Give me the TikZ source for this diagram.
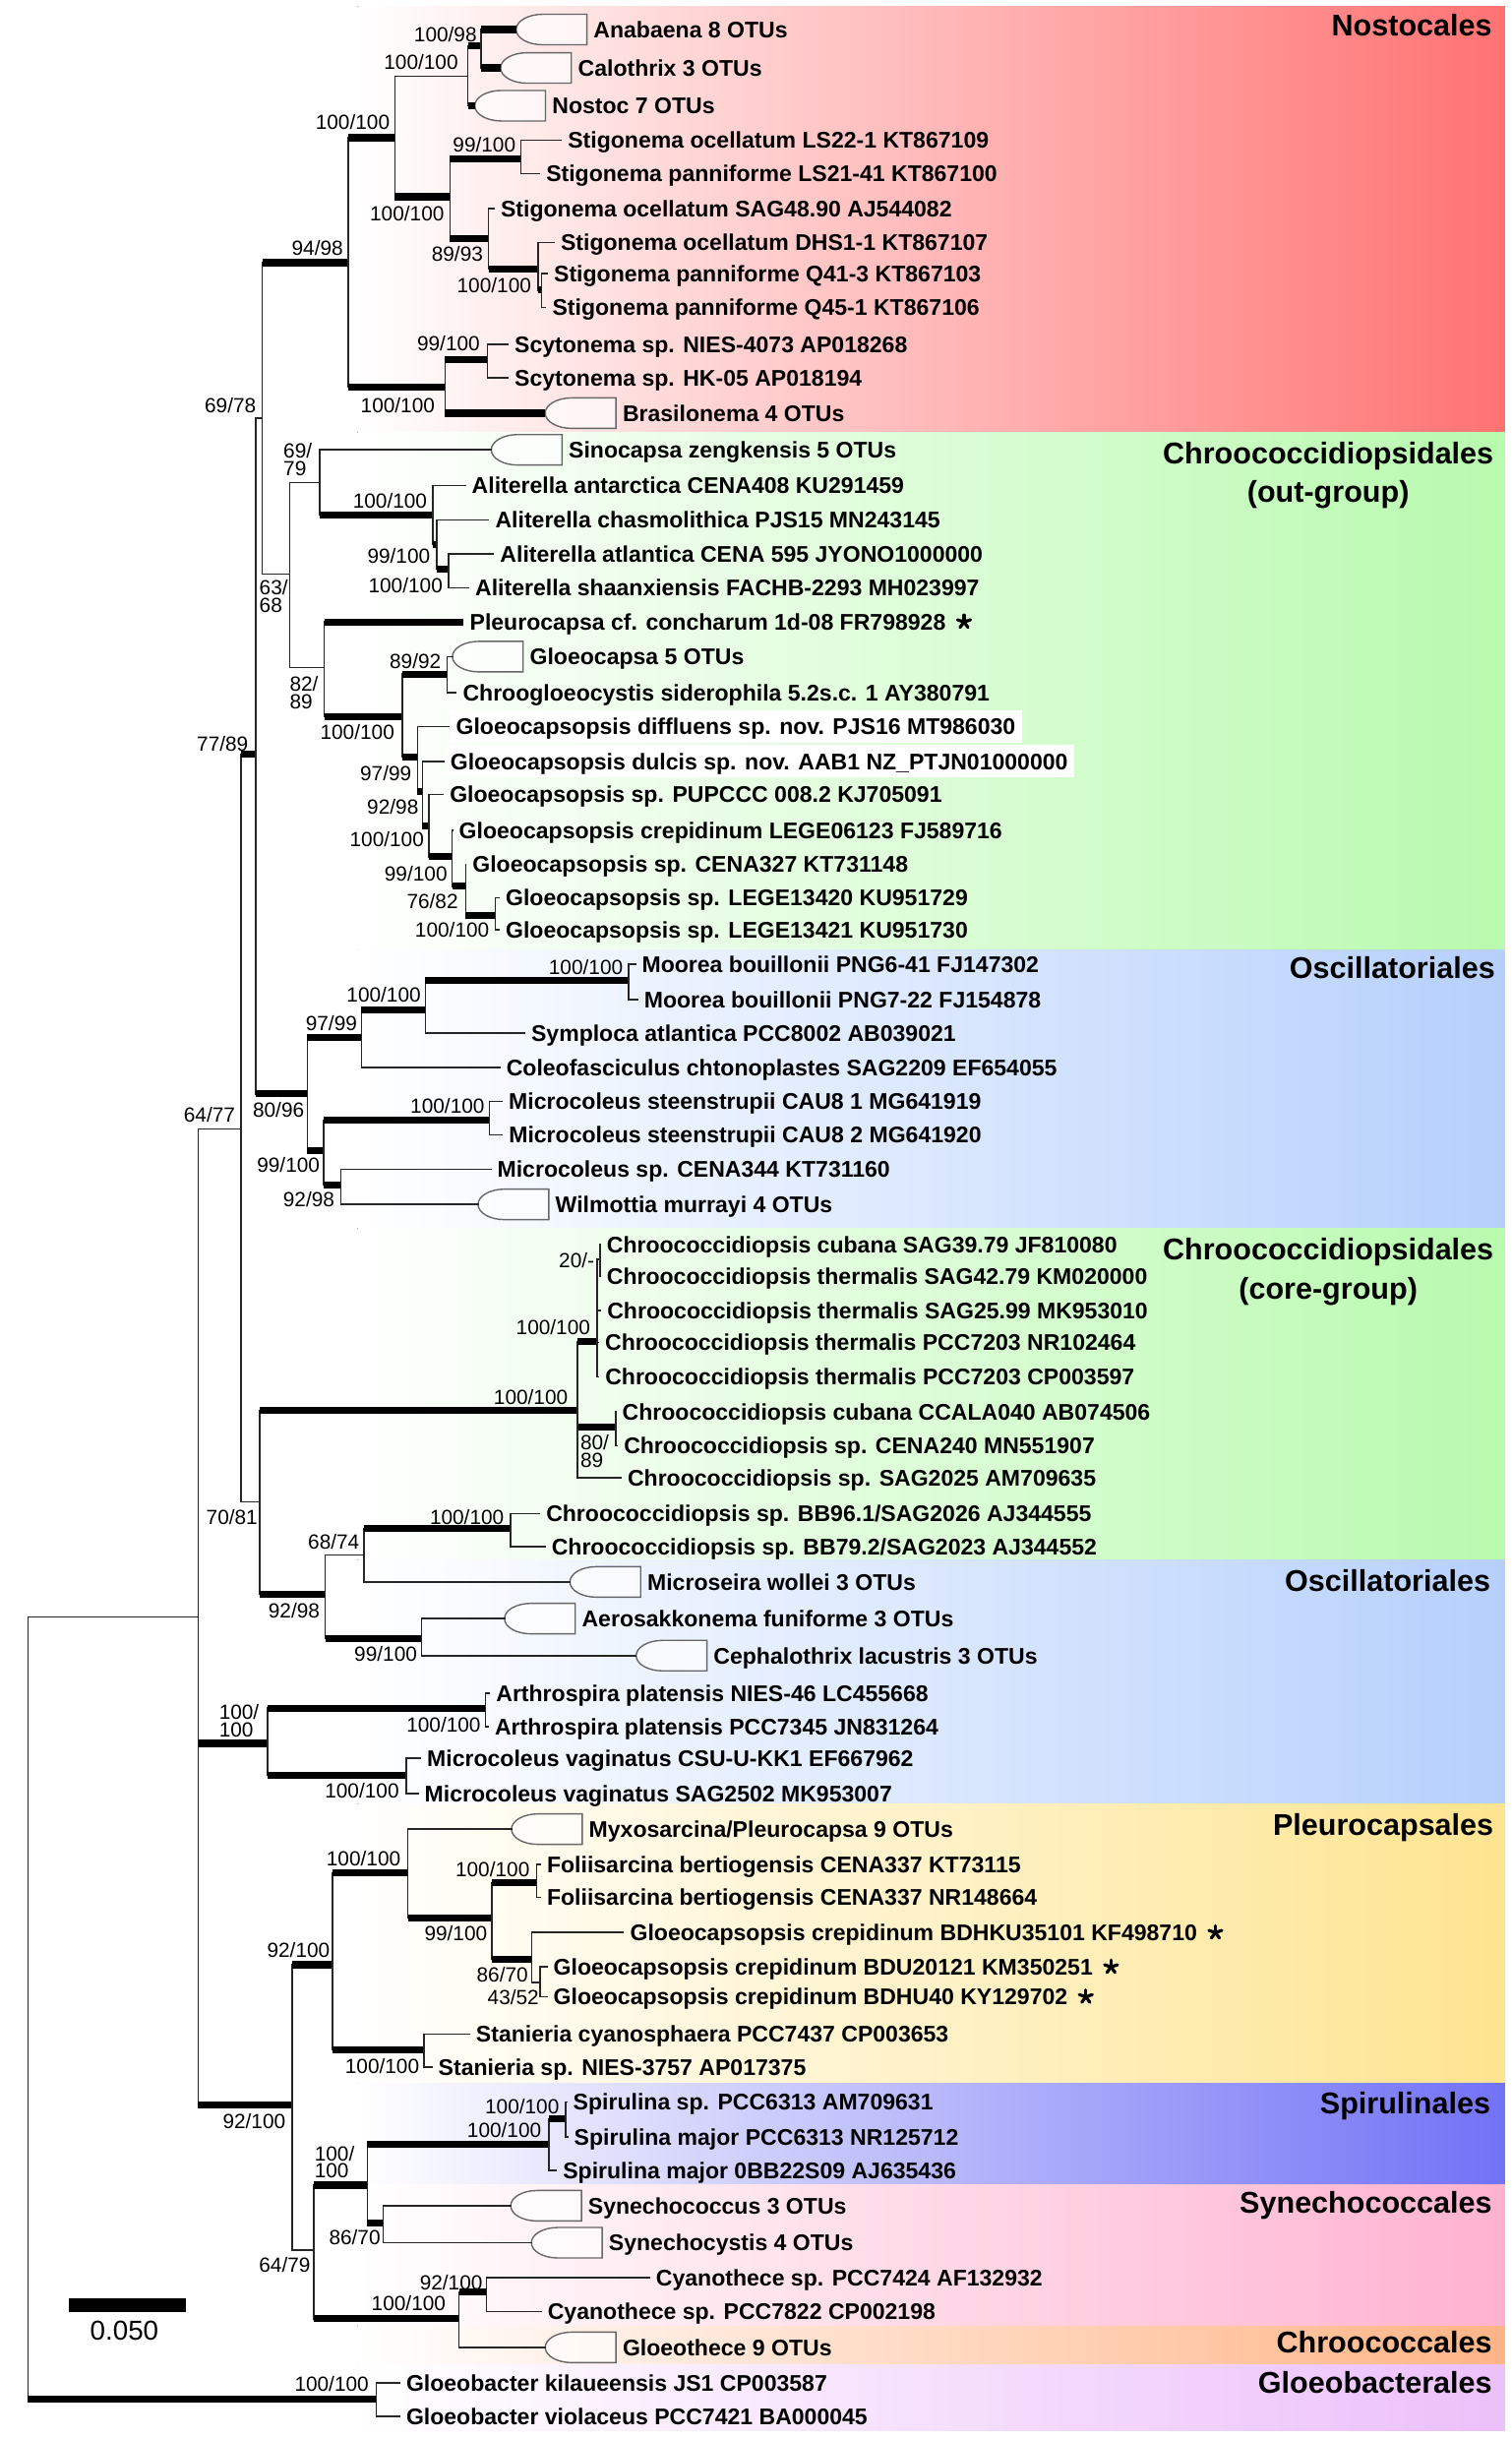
\documentclass[tikz,border=0pt]{standalone}
\usepackage{fontspec}
\setmainfont{Liberation Sans}
\definecolor{nostC}{RGB}{255,114,114}
\definecolor{chrC}{RGB}{184,250,174}
\definecolor{oscC}{RGB}{182,208,252}
\definecolor{pleC}{RGB}{254,228,144}
\definecolor{spiC}{RGB}{114,114,246}
\definecolor{synC}{RGB}{255,178,206}
\definecolor{chcC}{RGB}{255,180,134}
\definecolor{glbC}{RGB}{236,192,250}
\tikzset{br/.style={line width=0.55pt,line cap=rect,black!85}}
\tikzset{bb/.style={line width=2.6pt}}
\tikzset{vline/.style={line width=0.55pt,line cap=rect,black!85}}
\tikzset{leaf/.style={anchor=west,inner xsep=2.27pt,inner ysep=0pt,font=\bfseries\fontsize{8.3}{10}\selectfont,text height=5.95pt,text depth=0pt}}
\tikzset{boxleaf/.style={leaf,fill=white,inner ysep=3pt}}
\tikzset{bs/.style={anchor=east,inner sep=0pt,font=\fontsize{7.5}{6.3}\selectfont,text height=5.4pt,text depth=0pt}}
\tikzset{bstwo/.style={anchor=west,align=left,inner sep=0pt,font=\fontsize{7.5}{6.3}\selectfont}}
\tikzset{grp/.style={anchor=north east,align=center,inner sep=0pt,font=\bfseries\fontsize{11}{14.2}\selectfont}}
\tikzset{cladeshape/.style={draw=black!60,line width=0.5pt,fill=white,fill opacity=0.65}}
\tikzset{astk/.style={line width=1.15pt,line cap=round}}
\newcommand{\cladebox}[4]{%
  \coordinate (#1) at (#2,#3);
  \draw[cladeshape] (#2+17,#3-9.8) -- (#2+45.5,#3-9.8) -- (#2+45.5,#3+9.8) -- (#2+17,#3+9.8)
    .. controls (#2+7.6,#3+9.8) and (#2,#3+5.4) .. (#2,#3)
    .. controls (#2,#3-5.4) and (#2+7.6,#3-9.8) .. cycle;
  \node[leaf] (#1-lab) at (#2+45.5,#3) {#4};}

\begin{document}
\begin{tikzpicture}[x=0.02cm,y=-0.02cm]
  \useasboundingbox (0,0) rectangle (972,1568);
  % coloured bands
  \fill[left color=white,right color=nostC] (230,4) rectangle (968,278);
  \fill[left color=white,right color=chrC] (230,278) rectangle (968,611);
  \fill[left color=white,right color=oscC] (230,611) rectangle (968,790);
  \fill[left color=white,right color=chrC] (230,790) rectangle (968,1003);
  \fill[left color=white,right color=oscC] (230,1003) rectangle (968,1160);
  \fill[left color=white,right color=pleC] (230,1160) rectangle (968,1340);
  \fill[left color=white,right color=spiC] (230,1340) rectangle (968,1405);
  \fill[left color=white,right color=synC] (230,1405) rectangle (968,1496);
  \fill[left color=white,right color=chcC] (230,1496) rectangle (968,1521);
  \fill[left color=white,right color=glbC] (230,1521) rectangle (968,1563);

  % collapsed clades
  \cladebox{anab}{332}{19}{Anabaena 8 OTUs}
  \cladebox{calo}{322}{43.7}{Calothrix 3 OTUs}
  \cladebox{nosto}{305.4}{68}{Nostoc 7 OTUs}
  \cladebox{brasil}{350.7}{265.7}{Brasilonema 4 OTUs}
  \cladebox{sinoc}{316}{289.3}{Sinocapsa zengkensis 5 OTUs}
  \cladebox{gloeoca}{291}{422.3}{Gloeocapsa 5 OTUs}
  \cladebox{wilmo}{307.5}{774.6}{Wilmottia murrayi 4 OTUs}
  \cladebox{microse}{366.6}{1017.4}{Microseira wollei 3 OTUs}
  \cladebox{aeros}{324.5}{1041}{Aerosakkonema funiforme 3 OTUs}
  \cladebox{cephal}{409.2}{1064.8}{Cephalothrix lacustris 3 OTUs}
  \cladebox{myxo}{329}{1176.4}{Myxosarcina/Pleurocapsa 9 OTUs}
  \cladebox{synco}{328.5}{1418.6}{Synechococcus 3 OTUs}
  \cladebox{syncy}{341.8}{1442.4}{Synechocystis 4 OTUs}
  \cladebox{gloeoth}{350.7}{1509.7}{Gloeothece 9 OTUs}

  % leaves
  \node[leaf] (stig1) at (361,90.3) {Stigonema ocellatum LS22-1 KT867109};
  \node[leaf] (stig2) at (347,111.8) {Stigonema panniforme LS21-41 KT867100};
  \node[leaf] (stig3) at (317.8,134) {Stigonema ocellatum SAG48.90 AJ544082};
  \node[leaf] (stig4) at (356.4,156) {Stigonema ocellatum DHS1-1 KT867107};
  \node[leaf] (stig5) at (352,176) {Stigonema panniforme Q41-3 KT867103};
  \node[leaf] (stig6) at (351,197.6) {Stigonema panniforme Q45-1 KT867106};
  \node[leaf] (scyt1) at (326.7,221.4) {Scytonema sp. NIES-4073 AP018268};
  \node[leaf] (scyt2) at (326.7,243) {Scytonema sp. HK-05 AP018194};
  \node[leaf] (aliant) at (299.2,312.2) {Aliterella antarctica CENA408 KU291459};
  \node[leaf] (alichas) at (314.3,334.5) {Aliterella chasmolithica PJS15 MN243145};
  \node[leaf] (aliatl) at (317.4,356.2) {Aliterella atlantica CENA 595 JYONO1000000};
  \node[leaf] (alishaan) at (301.4,378) {Aliterella shaanxiensis FACHB-2293 MH023997};
  \node[leaf] (pleuroc) at (297.9,400) {Pleurocapsa cf. concharum 1d-08 FR798928};
  \node[leaf] (chroog) at (293.4,445.6) {Chroogloeocystis siderophila 5.2s.c. 1 AY380791};
  \node[boxleaf] (gdiff) at (289,467.4) {Gloeocapsopsis diffluens sp. nov. PJS16 MT986030};
  \node[boxleaf] (gdulc) at (285.4,489.6) {Gloeocapsopsis dulcis sp. nov. AAB1 NZ\_PTJN01000000};
  \node[leaf] (gpup) at (285,511) {Gloeocapsopsis sp. PUPCCC 008.2 KJ705091};
  \node[leaf] (gcrepL) at (291,534) {Gloeocapsopsis crepidinum LEGE06123 FJ589716};
  \node[leaf] (gcena) at (299.6,556) {Gloeocapsopsis sp. CENA327 KT731148};
  \node[leaf] (glege1) at (321,577.5) {Gloeocapsopsis sp. LEGE13420 KU951729};
  \node[leaf] (glege2) at (321,598) {Gloeocapsopsis sp. LEGE13421 KU951730};
  \node[leaf] (moor1) at (408.6,620.2) {Moorea bouillonii PNG6-41 FJ147302};
  \node[leaf] (moor2) at (410,643) {Moorea bouillonii PNG7-22 FJ154878};
  \node[leaf] (sympl) at (337.4,664.5) {Symploca atlantica PCC8002 AB039021};
  \node[leaf] (coleo) at (321.4,686.6) {Coleofasciculus chtonoplastes SAG2209 EF654055};
  \node[leaf] (mste1) at (322.9,708.4) {Microcoleus steenstrupii CAU8 1 MG641919};
  \node[leaf] (mste2) at (323,729.9) {Microcoleus steenstrupii CAU8 2 MG641920};
  \node[leaf] (mcena) at (315.6,752) {Microcoleus sp. CENA344 KT731160};
  \node[leaf] (ccub1) at (386,800.5) {Chroococcidiopsis cubana SAG39.79 JF810080};
  \node[leaf] (cther1) at (386,821) {Chroococcidiopsis thermalis SAG42.79 KM020000};
  \node[leaf] (cther2) at (386.3,842.7) {Chroococcidiopsis thermalis SAG25.99 MK953010};
  \node[leaf] (cther3) at (384.9,863.4) {Chroococcidiopsis thermalis PCC7203 NR102464};
  \node[leaf] (cther4) at (385,885.5) {Chroococcidiopsis thermalis PCC7203 CP003597};
  \node[leaf] (ccub2) at (396,908) {Chroococcidiopsis cubana CCALA040 AB074506};
  \node[leaf] (ccena) at (397,929.8) {Chroococcidiopsis sp. CENA240 MN551907};
  \node[leaf] (csag) at (399.4,950.3) {Chroococcidiopsis sp. SAG2025 AM709635};
  \node[leaf] (cbb96) at (347,973.5) {Chroococcidiopsis sp. BB96.1/SAG2026 AJ344555};
  \node[leaf] (cbb79) at (350.5,994.6) {Chroococcidiopsis sp. BB79.2/SAG2023 AJ344552};
  \node[leaf] (arth1) at (314.8,1088.9) {Arthrospira platensis NIES-46 LC455668};
  \node[leaf] (arth2) at (314,1110.6) {Arthrospira platensis PCC7345 JN831264};
  \node[leaf] (mvag1) at (270.4,1130.7) {Microcoleus vaginatus CSU-U-KK1 EF667962};
  \node[leaf] (mvag2) at (268.8,1153.4) {Microcoleus vaginatus SAG2502 MK953007};
  \node[leaf] (fol1) at (347.5,1199.2) {Foliisarcina bertiogensis CENA337 KT73115};
  \node[leaf] (fol2) at (347.5,1220.3) {Foliisarcina bertiogensis CENA337 NR148664};
  \node[leaf] (gbdhku) at (401,1242.9) {Gloeocapsopsis crepidinum BDHKU35101 KF498710};
  \node[leaf] (gbdu) at (351.7,1265) {Gloeocapsopsis crepidinum BDU20121 KM350251};
  \node[leaf] (gbdhu) at (351.7,1284.2) {Gloeocapsopsis crepidinum BDHU40 KY129702};
  \node[leaf] (stan1) at (301.9,1308.3) {Stanieria cyanosphaera PCC7437 CP003653};
  \node[leaf] (stan2) at (277.7,1329.4) {Stanieria sp. NIES-3757 AP017375};
  \node[leaf] (spir1) at (364.4,1352) {Spirulina sp. PCC6313 AM709631};
  \node[leaf] (spir2) at (365,1374.3) {Spirulina major PCC6313 NR125712};
  \node[leaf] (spir3) at (357.8,1396) {Spirulina major 0BB22S09 AJ635436};
  \node[leaf] (cyan1) at (417.7,1465) {Cyanothece sp. PCC7424 AF132932};
  \node[leaf] (cyan2) at (348,1486.7) {Cyanothece sp. PCC7822 CP002198};
  \node[leaf] (gbkil) at (257,1532.5) {Gloeobacter kilaueensis JS1 CP003587};
  \node[leaf] (gbvio) at (257,1554) {Gloeobacter violaceus PCC7421 BA000045};

  % asterisk marks after the flagged leaves
  \foreach \n in {pleuroc,gbdhku,gbdu,gbdhu}
    \foreach \a in {90,162,234,306,18}
      \draw[astk] ([xshift=4.2pt]\n.east) -- ++(\a:2.5pt);

  % internal nodes
  \coordinate (root) at (18,1040);
  \coordinate (ingrp) at (127.5,1040);
  \coordinate (gb) at (242,1543);
  \coordinate (n6477) at (155,726);
  \coordinate (n7789) at (164.5,485);
  \coordinate (n6978) at (168.7,269);
  \coordinate (n9498) at (224,169);
  \coordinate (nA) at (254,88.6);
  \coordinate (nB) at (301,49);
  \coordinate (nC) at (309.4,29.5);
  \coordinate (nD) at (289.4,126.5);
  \coordinate (nE) at (335,102.3);
  \coordinate (nF) at (314.3,153.5);
  \coordinate (nG) at (346.2,173);
  \coordinate (nH) at (348.2,186.5);
  \coordinate (nI) at (286.3,249);
  \coordinate (nJ) at (313.4,231.4);
  \coordinate (n6368) at (186.4,369.3);
  \coordinate (n6979) at (205.5,310.5);
  \coordinate (nK) at (278.3,331.2);
  \coordinate (nL) at (281,350);
  \coordinate (nM) at (288.5,366);
  \coordinate (n8289) at (208.6,429.3);
  \coordinate (nN) at (258.8,461);
  \coordinate (nO) at (287.7,433.6);
  \coordinate (nP) at (268.6,487);
  \coordinate (nQ) at (271.7,509);
  \coordinate (nR) at (276,531);
  \coordinate (nS) at (290.8,551);
  \coordinate (nT) at (299.6,570);
  \coordinate (nU) at (318.7,589);
  \coordinate (n8096) at (197.6,703.5);
  \coordinate (n9799) at (232.5,667);
  \coordinate (nV) at (273.6,649.3);
  \coordinate (nW) at (404.4,630.7);
  \coordinate (nX) at (208.2,740);
  \coordinate (nY) at (314.8,720.4);
  \coordinate (nZ) at (219.4,762);
  \coordinate (n7081) at (167.1,966);
  \coordinate (nCore) at (371.5,907);
  \coordinate (nCa) at (384,863);
  \coordinate (nCb) at (386,810);
  \coordinate (nCc) at (396,918);
  \coordinate (n9298) at (209.2,1025.2);
  \coordinate (n6874) at (234,1000);
  \coordinate (nBB) at (328.4,983);
  \coordinate (nOs2) at (271.2,1053.7);
  \coordinate (nArth0) at (172,1121.2);
  \coordinate (nArth) at (312.2,1098.6);
  \coordinate (nMvag) at (261.3,1141.8);
  \coordinate (n92100) at (187.8,1354);
  \coordinate (nPleu) at (214,1263.6);
  \coordinate (nPl1) at (262.3,1204.5);
  \coordinate (nPl2) at (316.4,1233.6);
  \coordinate (nFol) at (345.2,1210.8);
  \coordinate (nPl3) at (342,1260);
  \coordinate (nPl4) at (347.3,1275);
  \coordinate (nStan) at (272.8,1318.4);
  \coordinate (n6479) at (202,1447);
  \coordinate (nSp0) at (236.2,1405.3);
  \coordinate (nSp1) at (353,1379.1);
  \coordinate (nSp2) at (364,1362.7);
  \coordinate (nSyn) at (246.4,1429.7);
  \coordinate (nCy0) at (295.2,1491.3);
  \coordinate (nCy1) at (313,1474);

  % branches: parent/child/style
  \foreach \p/\c/\s in {root/ingrp/br,root/gb/bb,gb/gbkil/br,gb/gbvio/br,
      ingrp/n6477/br,ingrp/nArth0/bb,ingrp/n92100/bb,
      n6477/n7789/bb,n6477/n7081/br,n7789/n6978/br,n7789/n8096/bb,
      n6978/n9498/bb,n6978/n6368/br,n9498/nA/bb,n9498/nI/bb,
      nA/nB/br,nA/nD/bb,nB/nC/bb,nB/nosto/bb,nC/anab/bb,nC/calo/bb,
      nD/nE/bb,nD/nF/bb,nE/stig1/br,nE/stig2/br,nF/stig3/br,nF/nG/bb,
      nG/stig4/br,nG/nH/bb,nH/stig5/br,nH/stig6/br,
      nI/nJ/bb,nI/brasil/bb,nJ/scyt1/br,nJ/scyt2/br,
      n6368/n6979/br,n6368/n8289/br,n6979/sinoc/br,n6979/nK/bb,
      nK/aliant/br,nK/nL/bb,nL/alichas/br,nL/nM/bb,nM/aliatl/br,nM/alishaan/br,
      n8289/pleuroc/bb,n8289/nN/bb,nN/nO/bb,nN/nP/bb,nO/gloeoca/br,nO/chroog/br,
      nP/gdiff/br,nP/nQ/bb,nQ/gdulc/br,nQ/nR/bb,nR/gpup/br,nR/nS/bb,
      nS/gcrepL/br,nS/nT/bb,nT/gcena/br,nT/nU/bb,nU/glege1/br,nU/glege2/br,
      n8096/n9799/bb,n8096/nX/bb,n9799/nV/bb,n9799/coleo/br,nV/nW/bb,nV/sympl/br,
      nW/moor1/br,nW/moor2/br,nX/nY/bb,nX/nZ/bb,nY/mste1/br,nY/mste2/br,
      nZ/mcena/br,nZ/wilmo/br,
      n7081/nCore/bb,n7081/n9298/bb,nCore/nCa/bb,nCore/nCc/bb,nCore/csag/br,
      nCa/nCb/br,nCa/cther2/br,nCa/cther3/br,nCa/cther4/br,nCb/ccub1/br,nCb/cther1/br,
      nCc/ccub2/br,nCc/ccena/br,
      n9298/n6874/br,n9298/nOs2/bb,n6874/nBB/bb,n6874/microse/br,
      nBB/cbb96/br,nBB/cbb79/br,nOs2/aeros/br,nOs2/cephal/br,
      nArth0/nArth/bb,nArth0/nMvag/bb,nArth/arth1/br,nArth/arth2/br,
      nMvag/mvag1/br,nMvag/mvag2/br,
      n92100/nPleu/bb,n92100/n6479/br,nPleu/nPl1/bb,nPleu/nStan/bb,
      nPl1/myxo/br,nPl1/nPl2/bb,nPl2/nFol/bb,nPl2/nPl3/bb,nFol/fol1/br,nFol/fol2/br,
      nPl3/gbdhku/br,nPl3/nPl4/br,nPl4/gbdu/br,nPl4/gbdhu/br,nStan/stan1/br,nStan/stan2/br,
      n6479/nSp0/bb,n6479/nCy0/bb,nSp0/nSp1/bb,nSp0/nSyn/bb,nSp1/nSp2/bb,nSp1/spir3/br,
      nSp2/spir1/br,nSp2/spir2/br,nSyn/synco/br,nSyn/syncy/br,
      nCy0/nCy1/bb,nCy0/gloeoth/br,nCy1/cyan1/br,nCy1/cyan2/br}
    {\draw[vline] (\p) -- (\p |- \c);
     \draw[\s] (\p |- \c) -- (\c);}

  % support values
  \foreach \x/\y/\a/\b [count=\i] in {307/22/100/98,295/39.6/100/100,251/78.5/100/100,
      332/92.8/99/100,286/137/100/100,311/163.4/89/93,342/183.5/100/100,221/159.6/94/98,
      309/221/99/100,280/260.5/100/100,165/261/69/78,275/322/100/100,277/357.3/99/100,
      285/376.5/100/100,284/425/89/92,254/470.7/100/100,160/478.3/77/89,265/497.2/97/99,
      269.5/518.6/92/98,273/540/100/100,288/561.8/99/100,295/579.6/76/82,315/598/100/100,
      401/621.9/100/100,271/639.6/100/100,230/658/97/99,196/714/80/96,151.6/716.8/64/77,
      312/711/100/100,206/749/99/100,215.5/771.6/92/98,382.6/810.4/20/-,380/853.3/100/100,
      365.6/898.6/100/100,166/975.6/70/81,324.5/975.6/100/100,231.5/991.8/68/74,
      206/1036/92/98,268.6/1063.6/99/100,309.5/1109/100/100,257/1151.8/100/100,
      258/1195.6/100/100,341/1202/100/100,313.7/1243.5/99/100,212.5/1254/92/100,
      340/1270/86/70,347/1284.7/43/52,270/1328.8/100/100,184/1364/92/100,
      360/1355/100/100,348.5/1370/100/100,245/1438.6/86/70,200/1456.5/64/79,
      310.7/1467.7/92/100,287/1481.2/100/100,237.5/1533/100/100}
    \node[bs] (bs\i) at (\x,\y) {\a/\b};
  \foreach \x/\y/\a/\b [count=\i] in {182/295.5/69/79,166.5/383.5/63/68,186/445.5/82/89,
      373/933.3/80/89,140.6/1106.8/100/100,202/1390.6/100/100}
    \node[bstwo] (bt\i) at (\x,\y) {\a/\\\b};

  % order labels
  \node[grp] (gNost) at (960,9) {Nostocales};
  \node[grp] (gChrOut) at (961,284) {Chroococcidiopsidales\\(out-group)};
  \node[grp] (gOsc1) at (962,615) {Oscillatoriales};
  \node[grp] (gChrCore) at (961,796) {Chroococcidiopsidales\\(core-group)};
  \node[grp] (gOsc2) at (959,1009) {Oscillatoriales};
  \node[grp] (gPleu) at (961,1166) {Pleurocapsales};
  \node[grp] (gSpir) at (959,1345) {Spirulinales};
  \node[grp] (gSyn) at (960,1409) {Synechococcales};
  \node[grp] (gChc) at (960,1499) {Chroococcales};
  \node[grp] (gGlb) at (960,1525) {Gloeobacterales};

  % scale bar
  \fill (44.4,1478.3) rectangle (119.9,1487.1);
  \node[inner sep=0pt,font=\fontsize{10}{12}\selectfont,text height=7.2pt,text depth=0pt] (scalelab) at (80,1499) {0.050};
\end{tikzpicture}
\end{document}
